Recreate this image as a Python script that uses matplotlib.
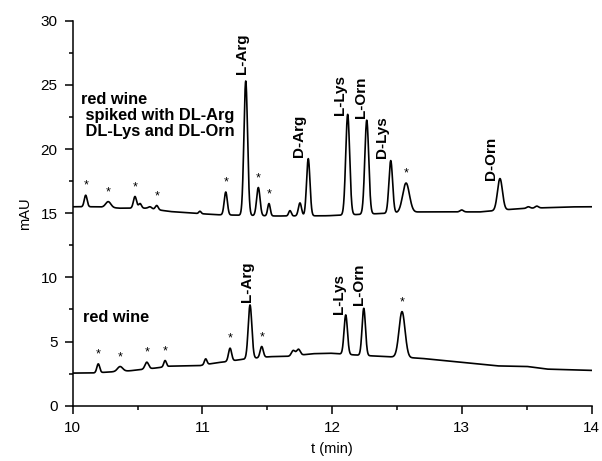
import numpy as np
import matplotlib
matplotlib.use("Agg")
import matplotlib.pyplot as plt
from matplotlib.ticker import MultipleLocator

plt.rcParams["font.family"] = ["Liberation Sans", "DejaVu Sans"]

# --- data ---------------------------------------------------------------
# spiked red wine (upper trace): baseline anchors (min, mAU)
spk_base_t = [10.0, 10.185, 10.365, 10.57, 10.75, 10.93, 11.11, 11.573, 11.96, 12.677, 13.14, 13.45, 13.835, 14.0]
spk_base_y = [15.5, 15.5, 15.39, 15.39, 15.13, 15.0, 14.88, 14.78, 14.8, 15.1, 15.1, 15.36, 15.49, 15.5]
# peaks: retention time, apex (mAU), width (sigma, min)
spk_peak_t = [10.100, 10.274, 10.480, 10.519, 10.596, 10.648, 10.981, 11.180, 11.334, 11.431,
              11.513, 11.675, 11.752, 11.816, 12.120, 12.267, 12.452, 12.570, 12.999, 13.294,
              13.513, 13.578]
spk_peak_y = [16.4, 15.9, 16.3, 15.75, 15.5, 15.6, 15.15, 16.65, 25.3, 17.0,
              15.75, 15.2, 15.8, 19.25, 22.7, 22.25, 19.1, 17.35, 15.25, 17.7,
              15.5, 15.55]
spk_peak_w = [0.011, 0.02, 0.012, 0.011, 0.013, 0.011, 0.009, 0.012, 0.014, 0.013,
              0.010, 0.010, 0.012, 0.013, 0.015, 0.015, 0.014, 0.026, 0.013, 0.019,
              0.013, 0.013]
spk_stars = [10.100, 10.274, 10.480, 10.648, 11.180, 11.431, 11.513, 12.570]
spk_names = ["L-Arg", "D-Arg", "L-Lys", "L-Orn", "D-Lys", "D-Orn"]
spk_name_t = [11.334, 11.816, 12.120, 12.267, 12.452, 13.294]

# red wine (lower trace)
wine_base_t = [10.0, 10.16, 10.44, 10.635, 10.75, 10.98, 11.11, 11.16, 11.3, 11.52, 11.675, 11.85,
               11.984, 12.18, 12.4, 12.677, 12.935, 13.27, 13.5, 13.655, 13.835, 14.0]
wine_base_y = [2.54, 2.55, 2.72, 2.93, 3.08, 3.12, 3.35, 3.4, 3.6, 3.82, 3.85, 4.05,
               4.09, 3.95, 3.83, 3.7, 3.44, 3.1, 3.06, 2.85, 2.8, 2.75]
wine_peak_t = [10.197, 10.365, 10.571, 10.712, 11.025, 11.213, 11.367, 11.457, 11.700, 11.740,
               12.105, 12.244, 12.539]
wine_peak_y = [3.26, 3.05, 3.39, 3.52, 3.65, 4.48, 7.85, 4.61, 4.3, 4.4,
               7.07, 7.59, 7.33]
wine_peak_w = [0.011, 0.02, 0.014, 0.010, 0.010, 0.012, 0.014, 0.012, 0.014, 0.014,
               0.013, 0.013, 0.023]
wine_stars = [10.197, 10.365, 10.571, 10.712, 11.213, 11.457, 12.539]
wine_names = ["L-Arg", "L-Lys", "L-Orn"]
wine_name_t = [11.367, 12.105, 12.244]

# label nudges in points (dx, dy) relative to peak apex
spk_name_off = [(-3, 5), (-6.5, 1), (-5.5, -0.7), (-4.3, 1.4), (-6.2, 2), (-6.7, -1.2)]
wine_name_off = [(-2.4, 2.4), (-5, 0.7), (-3.6, 2.4)]


def trace(t, bt, by, pt, py, pw):
    base = np.interp(t, bt, by)
    y = base.copy()
    for c, a, s in zip(pt, py, pw):
        amp = a - np.interp(c, bt, by)
        y += amp * np.exp(-0.5 * ((t - c) / s) ** 2)
    return y


t = np.linspace(10, 14, 4001)
y_spk = trace(t, spk_base_t, spk_base_y, spk_peak_t, spk_peak_y, spk_peak_w)
y_wine = trace(t, wine_base_t, wine_base_y, wine_peak_t, wine_peak_y, wine_peak_w)

fig = plt.figure(figsize=(6.02, 4.61), dpi=100)
ax = fig.add_axes([0.1208, 0.1200, 0.8618, 0.8351])
ax.plot(t, y_spk, color="black", lw=1.2)
ax.plot(t, y_wine, color="black", lw=1.2)

ax.set_xlim(10, 14)
ax.set_ylim(0, 30)
for s in ["top", "right"]:
    ax.spines[s].set_visible(False)
for s in ["left", "bottom"]:
    ax.spines[s].set_linewidth(1.1)
ax.xaxis.set_major_locator(MultipleLocator(1))
ax.xaxis.set_minor_locator(MultipleLocator(0.5))
ax.yaxis.set_major_locator(MultipleLocator(5))
ax.yaxis.set_minor_locator(MultipleLocator(2.5))
ax.tick_params(which="major", length=5.5, width=1.1, labelsize=11, pad=5.5)
ax.tick_params(which="minor", length=3, width=1.1)
ax.set_xlabel("t (min)", fontsize=10.5, labelpad=5)
ax.set_ylabel("mAU", fontsize=10.5, labelpad=6)


def apex(tt, yy, c):
    i = np.argmin(np.abs(tt - c))
    j = slice(max(i - 15, 0), i + 16)
    return yy[j].max()


for names, nt, offs, yy in [(spk_names, spk_name_t, spk_name_off, y_spk),
                            (wine_names, wine_name_t, wine_name_off, y_wine)]:
    for n, c, (dx, dy) in zip(names, nt, offs):
        ax.annotate(n, xy=(c, apex(t, yy, c)), xytext=(dx, dy), textcoords="offset points",
                    rotation=90, ha="center", va="bottom", fontsize=11, fontweight="bold")

for stars, yy in [(spk_stars, y_spk), (wine_stars, y_wine)]:
    for c in stars:
        ax.annotate("*", xy=(c, apex(t, yy, c)), xytext=(0, 2.5), textcoords="offset points",
                    ha="center", va="bottom", fontsize=9)

ax.text(10.065, 24.45, "red wine\n spiked with DL-Arg\n DL-Lys and DL-Orn", ha="left", va="top",
        fontsize=11.8, fontweight="bold", linespacing=1.1)
ax.text(10.082, 6.84, "red wine", ha="left", va="center", fontsize=11.8, fontweight="bold")

fig.savefig("out.png", dpi=100)
